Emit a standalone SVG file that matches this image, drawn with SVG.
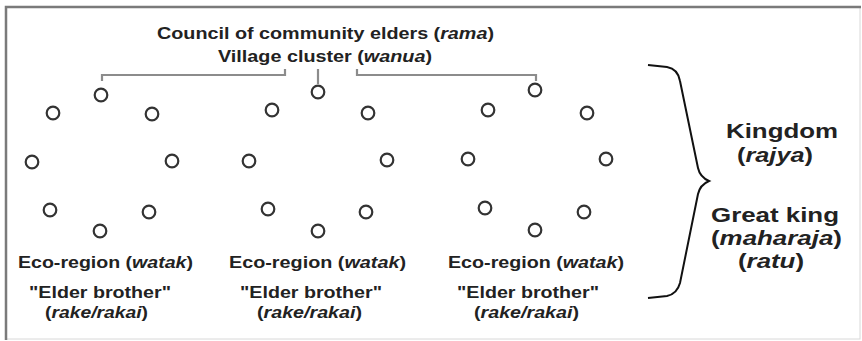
<svg xmlns="http://www.w3.org/2000/svg" width="862" height="341" viewBox="0 0 862 341">
<style>
text{font-family:"Liberation Sans",Arial,sans-serif;font-weight:bold;fill:#222;}
.s{font-size:16px;}
.b{font-size:21px;}
.i{font-style:italic;}
.v{fill:#fff;stroke:#333;stroke-width:2.2;}
.br{fill:none;stroke:#8c8c8c;stroke-width:2.2;}
</style>
<rect x="0" y="0" width="862" height="341" fill="#fff"/>
<rect x="6" y="7" width="854" height="332" fill="none" stroke="#d8d8d8" stroke-width="1"/>
<path d="M6,340 L6,7 L861,7" fill="none" stroke="#7a7a7a" stroke-width="2.5"/>
<g id="title">
<text class="s" x="325.5" y="39" text-anchor="middle" textLength="337" lengthAdjust="spacingAndGlyphs">Council of community elders (<tspan class="i">rama</tspan>)</text>
<text class="s" x="325" y="62" text-anchor="middle" textLength="214" lengthAdjust="spacingAndGlyphs">Village cluster (<tspan class="i">wanua</tspan>)</text>
</g>
<g id="connectors">
<path class="br" d="M102,81 L102,75 L285,75 L285,69"/>
<path class="br" d="M318,69 L318,84"/>
<path class="br" d="M357,69 L357,75 L536,75 L536,81"/>
<path d="M648,65 L667,67 Q678,69 680,81 L698,168 Q700,177 709,181 Q700,185 698,194 L680,283 Q677,294 667,296 L648,298" fill="none" stroke="#111" stroke-width="2"/>
</g>
<g id="region1">
<circle class="v" cx="101" cy="95" r="6.3"/>
<circle class="v" cx="53" cy="113" r="6.3"/>
<circle class="v" cx="152" cy="114" r="6.3"/>
<circle class="v" cx="32" cy="162" r="6.3"/>
<circle class="v" cx="172" cy="161" r="6.3"/>
<circle class="v" cx="50" cy="210" r="6.3"/>
<circle class="v" cx="100" cy="231" r="6.3"/>
<circle class="v" cx="149" cy="212" r="6.3"/>
<text class="s" x="105.5" y="268" text-anchor="middle" textLength="175" lengthAdjust="spacingAndGlyphs">Eco-region (<tspan class="i">watak</tspan>)</text>
<text class="s" x="100" y="298" text-anchor="middle" textLength="142" lengthAdjust="spacingAndGlyphs">"Elder brother"</text>
<text class="s" x="96.5" y="318" text-anchor="middle" textLength="103" lengthAdjust="spacingAndGlyphs">(<tspan class="i">rake/rakai</tspan>)</text>
</g>
<g id="region2">
<circle class="v" cx="318" cy="92" r="6.3"/>
<circle class="v" cx="272" cy="110" r="6.3"/>
<circle class="v" cx="368" cy="113" r="6.3"/>
<circle class="v" cx="249" cy="161" r="6.3"/>
<circle class="v" cx="387" cy="160" r="6.3"/>
<circle class="v" cx="268" cy="209" r="6.3"/>
<circle class="v" cx="318" cy="231" r="6.3"/>
<circle class="v" cx="366" cy="212" r="6.3"/>
<text class="s" x="317.5" y="268" text-anchor="middle" textLength="177" lengthAdjust="spacingAndGlyphs">Eco-region (<tspan class="i">watak</tspan>)</text>
<text class="s" x="311" y="298" text-anchor="middle" textLength="142" lengthAdjust="spacingAndGlyphs">"Elder brother"</text>
<text class="s" x="309.5" y="318" text-anchor="middle" textLength="105" lengthAdjust="spacingAndGlyphs">(<tspan class="i">rake/rakai</tspan>)</text>
</g>
<g id="region3">
<circle class="v" cx="535" cy="90" r="6.3"/>
<circle class="v" cx="488" cy="110" r="6.3"/>
<circle class="v" cx="587" cy="113" r="6.3"/>
<circle class="v" cx="468" cy="159" r="6.3"/>
<circle class="v" cx="606" cy="159" r="6.3"/>
<circle class="v" cx="485" cy="208" r="6.3"/>
<circle class="v" cx="535" cy="230" r="6.3"/>
<circle class="v" cx="584" cy="212" r="6.3"/>
<text class="s" x="536" y="268" text-anchor="middle" textLength="176" lengthAdjust="spacingAndGlyphs">Eco-region (<tspan class="i">watak</tspan>)</text>
<text class="s" x="528" y="298" text-anchor="middle" textLength="142" lengthAdjust="spacingAndGlyphs">"Elder brother"</text>
<text class="s" x="526.5" y="318" text-anchor="middle" textLength="105" lengthAdjust="spacingAndGlyphs">(<tspan class="i">rake/rakai</tspan>)</text>
</g>
<g id="kingdom">
<text class="b" x="782" y="138" text-anchor="middle" textLength="112" lengthAdjust="spacingAndGlyphs">Kingdom</text>
<text class="b" x="775" y="162" text-anchor="middle" textLength="76" lengthAdjust="spacingAndGlyphs">(<tspan class="i">rajya</tspan>)</text>
<text class="b" x="775" y="222" text-anchor="middle" textLength="128" lengthAdjust="spacingAndGlyphs">Great king</text>
<text class="b" x="776.5" y="245" text-anchor="middle" textLength="131" lengthAdjust="spacingAndGlyphs">(<tspan class="i">maharaja</tspan>)</text>
<text class="b" x="771" y="268" text-anchor="middle" textLength="66" lengthAdjust="spacingAndGlyphs">(<tspan class="i">ratu</tspan>)</text>
</g>
</svg>
